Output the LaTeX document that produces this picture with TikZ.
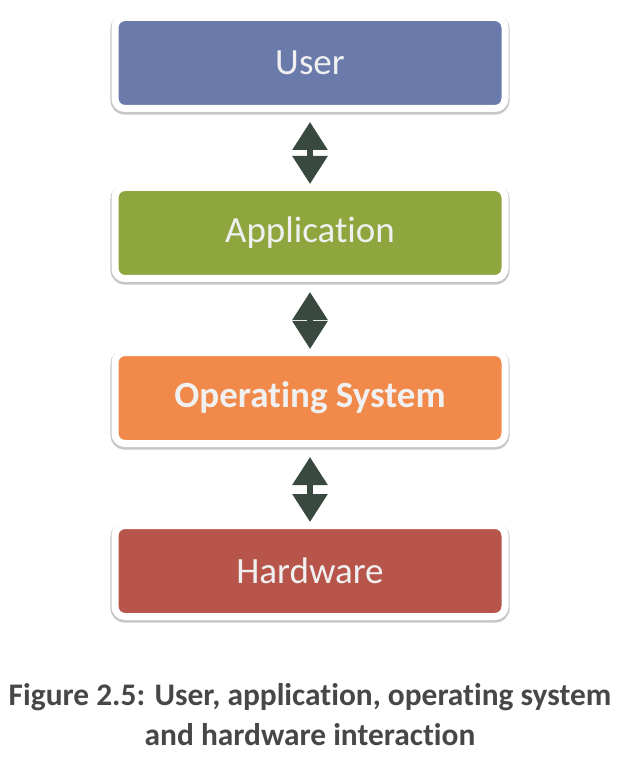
\documentclass[tikz,border=0pt]{standalone}
\usepackage{fontspec}
\setmainfont[Ligatures=NoCommon]{Carlito}
\usepackage{xcolor}
\usetikzlibrary{positioning,arrows.meta}

\definecolor{usercol}{HTML}{6A7AAA}
\definecolor{appcol}{HTML}{8FA63F}
\definecolor{oscol}{HTML}{F1894A}
\definecolor{hwcol}{HTML}{B7554B}
\definecolor{arrowcol}{HTML}{3A4940}
\definecolor{captcol}{HTML}{474747}

\begin{document}
\begin{tikzpicture}[
  layer/.style={draw=white, line width=3.5pt, rounded corners=5pt,
    minimum width=195pt, minimum height=45.5pt, align=center,
    text=white!94!black, font=\fontsize{18.5}{22}\selectfont,
    preaction={draw=black!22, line width=4.6pt, transform canvas={yshift=-0.8pt}}},
  link/.style={{Triangle[length=14pt,width=17pt]}-{Triangle[length=14pt,width=17pt]},
    line width=3pt, draw=arrowcol, shorten <=5pt, shorten >=0pt},
  caption/.style={align=center, text=captcol, font=\bfseries\fontsize{15.7}{20}\selectfont},
]
\useasboundingbox (0,0) rectangle (310pt,-387pt);
\node[layer, fill=usercol] (user) at (155pt,-31.5pt) {User};
\node[layer, fill=appcol, below=36pt of user] (app) {Application};
\node[layer, fill=oscol, below=33.5pt of app, font=\bfseries\fontsize{18.5}{22}\selectfont] (os) {Operating System};
\node[layer, fill=hwcol, below=37.5pt of os] (hw) {Hardware};
\node[caption, below=28pt of hw] (cap) {Figure 2.5: User, application, operating system\\and hardware interaction};
\draw[link] (user) -- (app);
\draw[link] (app) -- (os);
\draw[link] (os) -- (hw);
\end{tikzpicture}
\end{document}
